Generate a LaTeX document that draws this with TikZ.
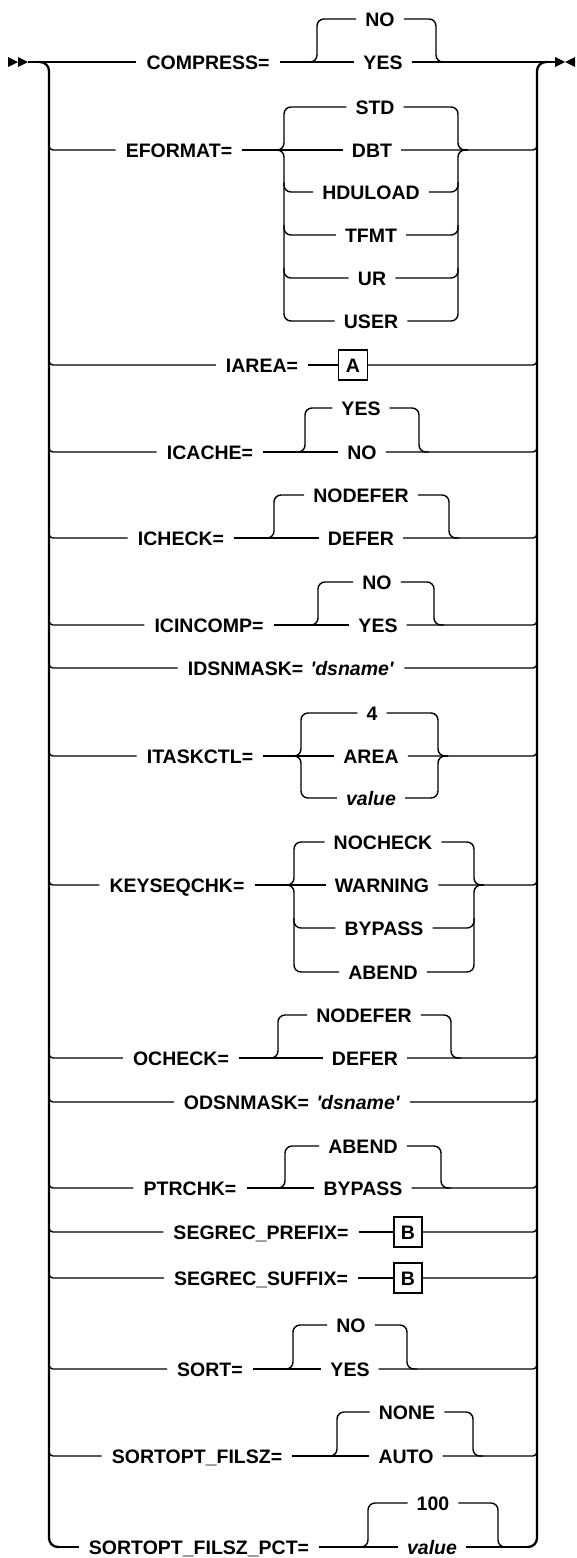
\documentclass[tikz,border=0pt]{standalone}
\usepackage{fontspec}
\newfontfamily\lbf{Liberation Sans}
\newcommand\lbfont{\lbf\bfseries\fontsize{19.5}{21}\selectfont}
\newcommand\sq{\textquotesingle}
\begin{document}
\begin{tikzpicture}[x=1pt,y=-1pt,
  ln/.style={line width=1.4pt},
  rl/.style={line width=2.3pt, rounded corners=9pt},
  lb/.style={font=\lbfont, inner xsep=10pt, inner ysep=0pt, text height=15pt, text depth=0pt},
  op/.style={lb, inner xsep=9pt},
  bx/.style={draw, line width=1.4pt, font=\lbfont, minimum width=29pt, minimum height=30pt, inner sep=0pt, text height=14pt, text depth=0pt},
  jn/.style={ln, rounded corners=7pt},
  br/.style={ln, rounded corners=4pt},
  tip/.style={fill=black}]
\useasboundingbox (0,0) rectangle (576,1558);

% start / end symbols and main rails
\coordinate (st) at (28,62);
\coordinate (en) at (555,62);
\fill[tip] (8,57) -- (18,62) -- (8,67) -- cycle;
\fill[tip] (18,57) -- (28,62) -- (18,67) -- cycle;
\fill[tip] (555,57) -- (565,62) -- (555,67) -- cycle;
\fill[tip] (575,57) -- (565,62) -- (575,67) -- cycle;
\coordinate (lrtop) at (39,62);
\coordinate (lrbot) at (59,1547);
\coordinate (rrbot) at (527,1547);
\coordinate (rrtop) at (547,62);
\draw[rl] (lrtop) -- (49,62) -- (49,1547) -- (lrbot);
\draw[rl] (rrbot) -- (537,1547) -- (537,62) -- (rrtop);

% COMPRESS
\node[lb] (compress) at (208,62) {COMPRESS=};
\node[op] (c1) at (380,19) {NO};
\node[op] (c2) at (383,62) {YES};
\draw[ln] (st) -- (compress.west);
\draw[ln] (compress.east) -- (c2.west);
\draw[ln] (c2.east) -- (en);
\draw[jn] (307,62) -- (317,62) -- (317,19) -- (c1.west);
\draw[jn] (c1.east) -- (436,19) -- (436,62) -- (446,62);

% EFORMAT
\node[lb] (eformat) at (179,150) {EFORMAT=};
\node[op] (e1) at (375,107) {STD};
\node[op] (e2) at (372,150) {DBT};
\node[op] (e3) at (371,192) {HDULOAD};
\node[op] (e4) at (371,235) {TFMT};
\node[op] (e5) at (372,278) {UR};
\node[op] (e6) at (371,321) {USER};
\draw[br] (49,142) -- (49,150) -- (eformat.west);
\draw[ln] (eformat.east) -- (e2.west);
\draw[br] (e2.east) -- (537,150) -- (537,142);
\draw[jn] (274,150) -- (284,150) -- (284,107) -- (e1.west);
\draw[jn] (274,150) -- (284,150) -- (284,321) -- (e6.west);
\draw[jn] (284,182) -- (284,192) -- (e3.west);
\draw[jn] (284,225) -- (284,235) -- (e4.west);
\draw[jn] (284,268) -- (284,278) -- (e5.west);
\draw[jn] (e1.east) -- (458,107) -- (458,150) -- (468,150);
\draw[jn] (e6.east) -- (458,321) -- (458,150) -- (468,150);
\draw[jn] (e3.east) -- (458,192) -- (458,182);
\draw[jn] (e4.east) -- (458,235) -- (458,225);
\draw[jn] (e5.east) -- (458,278) -- (458,268);

% IAREA
\node[lb] (iarea) at (262,365) {IAREA=};
\node[bx] (boxa) at (353,365) {A};
\draw[br] (49,357) -- (49,365) -- (iarea.west);
\draw[ln] (iarea.east) -- (boxa.west);
\draw[br] (boxa.east) -- (537,365) -- (537,357);

% ICACHE
\node[lb] (icache) at (210,452) {ICACHE=};
\node[op] (ic1) at (361,408) {YES};
\node[op] (ic2) at (362,452) {NO};
\draw[br] (49,444) -- (49,452) -- (icache.west);
\draw[ln] (icache.east) -- (ic2.west);
\draw[br] (ic2.east) -- (537,452) -- (537,444);
\draw[jn] (295,452) -- (305,452) -- (305,408) -- (ic1.west);
\draw[jn] (ic1.east) -- (419,408) -- (419,452) -- (429,452);

% ICHECK
\node[lb] (icheck) at (181,538) {ICHECK=};
\node[op] (ik1) at (361,495) {NODEFER};
\node[op] (ik2) at (361,538) {DEFER};
\draw[br] (49,530) -- (49,538) -- (icheck.west);
\draw[ln] (icheck.east) -- (ik2.west);
\draw[br] (ik2.east) -- (537,538) -- (537,530);
\draw[jn] (264,538) -- (274,538) -- (274,495) -- (ik1.west);
\draw[jn] (ik1.east) -- (449,495) -- (449,538) -- (459,538);

% ICINCOMP
\node[lb] (icincomp) at (209,625) {ICINCOMP=};
\node[op] (ii1) at (377,582) {NO};
\node[op] (ii2) at (378,625) {YES};
\draw[br] (49,617) -- (49,625) -- (icincomp.west);
\draw[ln] (icincomp.east) -- (ii2.west);
\draw[br] (ii2.east) -- (537,625) -- (537,617);
\draw[jn] (308,625) -- (318,625) -- (318,582) -- (ii1.west);
\draw[jn] (ii1.east) -- (434,582) -- (434,625) -- (444,625);

% IDSNMASK
\node[lb] (idsn) at (291,668) {IDSNMASK=\hspace{2pt} \textit{\sq dsname\sq}};
\draw[br] (49,660) -- (49,668) -- (idsn.west);
\draw[br] (idsn.east) -- (537,668) -- (537,660);

% ITASKCTL
\node[lb] (itask) at (200,756) {ITASKCTL=};
\node[op] (it1) at (372,713) {4};
\node[op] (it2) at (371,756) {AREA};
\node[op] (it3) at (371,798) {\textit{value}};
\draw[br] (49,748) -- (49,756) -- (itask.west);
\draw[ln] (itask.east) -- (it2.west);
\draw[br] (it2.east) -- (537,756) -- (537,748);
\draw[jn] (291,756) -- (301,756) -- (301,713) -- (it1.west);
\draw[jn] (291,756) -- (301,756) -- (301,798) -- (it3.west);
\draw[jn] (it1.east) -- (438,713) -- (438,756) -- (448,756);
\draw[jn] (it3.east) -- (438,798) -- (438,756) -- (448,756);

% KEYSEQCHK
\node[lb] (keyseq) at (177,885) {KEYSEQCHK=};
\node[op] (k1) at (383,842) {NOCHECK};
\node[op] (k2) at (382,885) {WARNING};
\node[op] (k3) at (384,928) {BYPASS};
\node[op] (k4) at (383,972) {ABEND};
\draw[br] (49,877) -- (49,885) -- (keyseq.west);
\draw[ln] (keyseq.east) -- (k2.west);
\draw[br] (k2.east) -- (537,885) -- (537,877);
\draw[jn] (284,885) -- (294,885) -- (294,842) -- (k1.west);
\draw[jn] (284,885) -- (294,885) -- (294,972) -- (k4.west);
\draw[jn] (294,918) -- (294,928) -- (k3.west);
\draw[jn] (k1.east) -- (474,842) -- (474,885) -- (484,885);
\draw[jn] (k4.east) -- (474,972) -- (474,885) -- (484,885);
\draw[jn] (k3.east) -- (474,928) -- (474,918);

% OCHECK
\node[lb] (ocheck) at (181,1058) {OCHECK=};
\node[op] (oc1) at (364,1015) {NODEFER};
\node[op] (oc2) at (365,1058) {DEFER};
\draw[br] (49,1050) -- (49,1058) -- (ocheck.west);
\draw[ln] (ocheck.east) -- (oc2.west);
\draw[br] (oc2.east) -- (537,1058) -- (537,1050);
\draw[jn] (268,1058) -- (278,1058) -- (278,1015) -- (oc1.west);
\draw[jn] (oc1.east) -- (451,1015) -- (451,1058) -- (461,1058);

% ODSNMASK
\node[lb] (odsn) at (292,1102) {ODSNMASK=\hspace{2pt} \textit{\sq dsname\sq}};
\draw[br] (49,1094) -- (49,1102) -- (odsn.west);
\draw[br] (odsn.east) -- (537,1102) -- (537,1094);

% PTRCHK
\node[lb] (ptrchk) at (190,1188) {PTRCHK=};
\node[op] (p1) at (363,1146) {ABEND};
\node[op] (p2) at (363,1188) {BYPASS};
\draw[br] (49,1180) -- (49,1188) -- (ptrchk.west);
\draw[ln] (ptrchk.east) -- (p2.west);
\draw[br] (p2.east) -- (537,1188) -- (537,1180);
\draw[jn] (275,1188) -- (285,1188) -- (285,1146) -- (p1.west);
\draw[jn] (p1.east) -- (441,1146) -- (441,1188) -- (451,1188);

% SEGREC_PREFIX
\node[lb] (segp) at (261,1232) {SEGREC\_PREFIX=};
\node[bx, minimum width=28pt] (boxb1) at (408,1232) {B};
\draw[br] (49,1224) -- (49,1232) -- (segp.west);
\draw[ln] (segp.east) -- (boxb1.west);
\draw[br] (boxb1.east) -- (537,1232) -- (537,1224);

% SEGREC_SUFFIX
\node[lb] (segs) at (261,1278) {SEGREC\_SUFFIX=};
\node[bx, minimum width=28pt] (boxb2) at (408,1278) {B};
\draw[br] (49,1270) -- (49,1278) -- (segs.west);
\draw[ln] (segs.east) -- (boxb2.west);
\draw[br] (boxb2.east) -- (537,1278) -- (537,1270);

% SORT
\node[lb] (sort) at (210,1369) {SORT=};
\node[op] (s1) at (351,1325) {NO};
\node[op] (s2) at (350,1369) {YES};
\draw[br] (49,1361) -- (49,1369) -- (sort.west);
\draw[ln] (sort.east) -- (s2.west);
\draw[br] (s2.east) -- (537,1369) -- (537,1361);
\draw[jn] (283,1369) -- (293,1369) -- (293,1325) -- (s1.west);
\draw[jn] (s1.east) -- (407,1325) -- (407,1369) -- (417,1369);

% SORTOPT_FILSZ
\node[lb] (sfz) at (197,1456) {SORTOPT\_FILSZ=};
\node[op] (f1) at (407,1412) {NONE};
\node[op] (f2) at (406,1456) {AUTO};
\draw[br] (49,1448) -- (49,1456) -- (sfz.west);
\draw[ln] (sfz.east) -- (f2.west);
\draw[br] (f2.east) -- (537,1456) -- (537,1448);
\draw[jn] (327,1456) -- (337,1456) -- (337,1412) -- (f1.west);
\draw[jn] (f1.east) -- (473,1412) -- (473,1456) -- (483,1456);

% SORTOPT_FILSZ_PCT
\node[lb] (sfp) at (199,1547) {SORTOPT\_FILSZ\_PCT=};
\node[op] (g1) at (433,1503) {100};
\node[op] (g2) at (432,1547) {\textit{value}};
\draw[ln] (lrbot) -- (sfp.west);
\draw[ln] (sfp.east) -- (g2.west);
\draw[ln] (g2.east) -- (rrbot);
\draw[jn] (358,1547) -- (368,1547) -- (368,1503) -- (g1.west);
\draw[jn] (g1.east) -- (498,1503) -- (498,1547) -- (508,1547);
\end{tikzpicture}
\end{document}
